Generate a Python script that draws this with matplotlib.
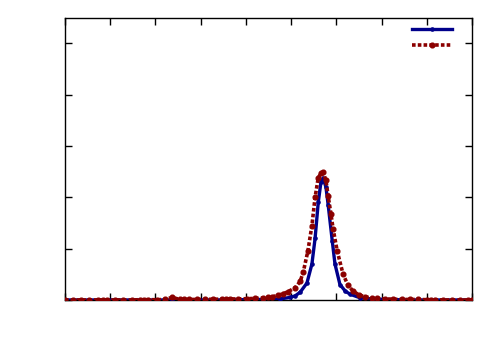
import matplotlib
matplotlib.use("Agg")
import matplotlib.pyplot as plt

# red (dotted) series
red_x = [0.0, 0.18, 0.35, 0.53, 0.73, 0.84, 0.93, 1.11, 1.28, 1.48, 1.66, 1.75, 1.84,
         2.04, 2.21, 2.37, 2.54, 2.63, 2.74, 2.92, 3.10, 3.27, 3.47, 3.56, 3.65, 3.83,
         4.03, 4.20, 4.38, 4.49, 4.58, 4.70, 4.82, 4.93, 5.09, 5.20, 5.27, 5.37, 5.46,
         5.53, 5.60, 5.66, 5.71, 5.77, 5.82, 5.88, 5.93, 6.02, 6.15, 6.25, 6.37, 6.50,
         6.64, 6.79, 6.90, 7.08, 7.26, 7.46, 7.63, 7.81, 8.01, 8.10, 8.19, 8.36, 8.56,
         8.74, 8.92, 9.0]
red_y = [0.0, 0.0, 0.0, 0.0, 0.0, 0.0, 0.0, 0.0, 0.0, 0.0, 0.005, 0.005, 0.005,
         0.005, 0.01, 0.05, 0.01, 0.01, 0.01, 0.01, 0.01, 0.015, 0.015, 0.02, 0.02, 0.02,
         0.025, 0.03, 0.04, 0.05, 0.06, 0.09, 0.12, 0.16, 0.24, 0.36, 0.55, 0.95, 1.45,
         2.0, 2.38, 2.47, 2.49, 2.33, 2.02, 1.68, 1.38, 0.95, 0.5, 0.3, 0.17, 0.1,
         0.06, 0.04, 0.03, 0.02, 0.015, 0.01, 0.01, 0.01, 0.005, 0.005, 0.005, 0.0, 0.0,
         0.0, 0.0, 0.0]

# blue (solid) series
blue_x = [0.0, 0.53, 1.11, 1.66, 2.21, 2.37, 2.74, 3.27, 3.83, 4.38, 4.76, 4.98,
          5.09, 5.20, 5.35, 5.46, 5.53, 5.60, 5.66, 5.71, 5.77, 5.82, 5.91, 5.97,
          6.08, 6.20, 6.31, 6.53, 6.79, 7.08, 7.63, 8.19, 8.74, 9.0]
blue_y = [0.0, 0.0, 0.0, 0.0, 0.0, 0.0, 0.0, 0.0, 0.005, 0.01, 0.02, 0.05,
          0.08, 0.15, 0.33, 0.7, 1.2, 1.9, 2.3, 2.37, 2.2, 1.85, 1.15, 0.7,
          0.3, 0.17, 0.11, 0.04, 0.02, 0.01, 0.0, 0.0, 0.0, 0.0]

fig = plt.figure(figsize=(5, 3.5), dpi=100)
ax = fig.add_axes([0.13, 0.143, 0.814, 0.806])

l1, = ax.plot(blue_x, blue_y, color="#00008b", lw=2.4, marker="o", ms=2.3,
              zorder=3)
l2, = ax.plot(red_x, red_y, color="#8b0000", lw=2.6, ls=(0, (1, 0.6)),
              marker="o", ms=3.4, zorder=4)

ax.set_xlim(0, 9)
ax.set_ylim(0, 5.5)
ax.set_xticks(range(0, 10))
ax.set_yticks(range(0, 6))
ax.tick_params(direction="in", top=True, right=True, length=5, width=1,
               labelbottom=False, labelleft=False)
for s in ax.spines.values():
    s.set_linewidth(1)

ax.legend([l1, l2], ["", ""], loc="upper right", frameon=False, numpoints=1,
          bbox_to_anchor=(0.975, 1.015), handlelength=2.9, handletextpad=0,
          borderaxespad=0.3, labelspacing=0.1, fontsize=10)

fig.savefig("out.png", dpi=100)
